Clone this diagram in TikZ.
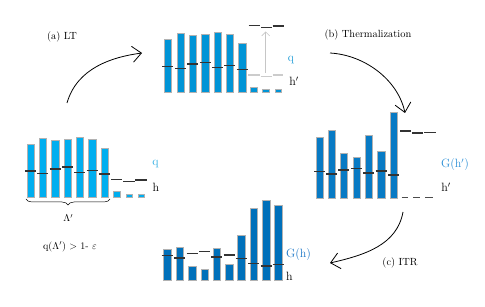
\documentclass[tikz,border=0pt]{standalone}
\usetikzlibrary{arrows.meta,decorations.pathreplacing}
\definecolor{barA}{RGB}{0,174,239}
\definecolor{barB}{RGB}{0,148,214}
\definecolor{barC}{RGB}{8,122,196}
\definecolor{barD}{RGB}{0,112,186}
\definecolor{lblA}{RGB}{41,171,226}
\definecolor{lblB}{RGB}{27,154,214}
\definecolor{lblC}{RGB}{43,143,214}
\definecolor{lblD}{RGB}{30,120,200}
\begin{document}
\begin{tikzpicture}[x=1pt,y=-1pt,
  bar/.style={draw=gray!60,line width=0.4pt},
  tick/.style={line width=1.3pt,draw=black!80},
  gtick/.style={line width=1.3pt,draw=gray!40},
  dtick/.style={line width=0.8pt,draw=black!70},
  flow/.style={line width=0.8pt,-{Straight Barb[length=9pt,width=16pt]}},
  lbl/.style={inner sep=0pt,font=\fontsize{12}{14}\selectfont},
  small/.style={inner sep=0pt,font=\fontsize{10}{12}\selectfont},
  tag/.style={inner sep=0pt,font=\fontsize{10.4}{12}\selectfont}]
\useasboundingbox (0,0) rectangle (485,307);

% ---------- Panel A (left) ----------
\foreach \x/\t/\k in {26.7/144/171,39/138/173.3,51.3/140/169,63.7/139/167,76/137/172.3,88.3/139/170.7,100.7/148.3/174}{
  \path[bar,fill=barA] (\x,\t) rectangle (\x+7.6,197.3);
  \draw[tick] (\x-1.8,\k) -- (\x+9.4,\k);
}
\foreach \x/\t in {113.3/191.7,125.7/194,137.7/194}{
  \path[bar,fill=barA] (\x,\t) rectangle (\x+6.8,197.3);
}
\draw[tick] (111,179.3) -- (121.7,179.3);
\draw[tick] (123.3,181.3) -- (135,181.3);
\draw[tick] (135,180) -- (146.7,180);
\node[lbl,text=lblA] (qA) at (155.5,164.5) {q};
\node[lbl] (hA) at (156,187) {h};
\draw[decorate,decoration={brace,mirror,amplitude=6pt},line width=0.5pt] (26,199) -- (110,199);
\node[small] (lam) at (68.3,218) {$\Lambda'$};
\node[small] (cond) at (70,247) {q($\Lambda'$) $>$ 1- $\varepsilon$};

% ---------- Panel B (top) ----------
\foreach \x/\t/\k in {164/39.3/66.3,176.7/33.3/68.7,189/35.3/64,201.3/34/62.3,213.7/32.3/67.7,226/34.3/65.7,238.3/43.3/69.7}{
  \path[bar,fill=barB] (\x,\t) rectangle (\x+7.4,92.3);
  \draw[tick] (\x-1.8,\k) -- (\x+9.2,\k);
}
\foreach \x/\t in {250/87.3,262.3/89.3,274.7/89.3}{
  \path[bar,fill=barB] (\x,\t) rectangle (\x+6.7,92.3);
}
\draw[gtick] (248.3,75) -- (260,75);
\draw[gtick] (260.7,76.7) -- (271.7,76.7);
\draw[gtick] (272.7,75) -- (283.3,75);
\draw[tick] (248.7,25.7) -- (260,25.7);
\draw[tick] (261,27.3) -- (271.7,27.3);
\draw[tick] (272.7,26) -- (284.3,26);
\coordinate (g1) at (265.7,73);
\coordinate (g2) at (265.7,31.5);
\draw[line width=0.6pt,draw=gray!45,-{Straight Barb[length=4pt,width=8pt]}] (g1) -- (g2);
\node[lbl,text=lblB] (qB) at (291,60.5) {q};
\node[lbl] (hB) at (294,81.5) {h$'$};

% ---------- Panel C (right) ----------
\foreach \x/\t/\k in {316/137.3/171.7,328/130/174,340/153/170,352.7/157/168.3,365/135/173,377.3/151.7/171,390/112.7/175}{
  \path[bar,fill=barC] (\x,\t) rectangle (\x+7.4,198.3);
  \draw[tick] (\x-1.8,\k) -- (\x+9.2,\k);
}
\draw[tick] (400,131) -- (411,131);
\draw[tick] (412.3,133) -- (423.3,133);
\draw[tick] (424,132.3) -- (435.7,132.3);
\draw[dtick] (401.7,197.7) -- (408.3,197.7);
\draw[dtick] (413.3,197.7) -- (420,197.7);
\draw[dtick] (425,197.7) -- (433.3,197.7);
\node[lbl,text=lblC] (gC) at (455,165) {G(h$'$)};
\node[lbl] (hC) at (446,187.5) {h$'$};

% ---------- Panel D (bottom) ----------
\foreach \x/\t/\k in {163.3/249/255.7,175.7/247/258,188.3/266/253.3,200.7/269/251.7,213/248/257,225.3/264.3/255,237.3/235.3/258.7,250/208/263.7,262.3/200.7/266,274.3/205/264.7}{
  \path[bar,fill=barD] (\x,\t) rectangle (\x+7.4,280.7);
  \draw[tick] (\x-1.8,\k) -- (\x+9.2,\k);
}
\node[lbl,text=lblD] (gD) at (298.6,255) {G(h)};
\node[lbl] (hD) at (289.5,276) {h};

% ---------- Process arrows ----------
\coordinate (a1) at (67,103);
\coordinate (a2) at (142,53);
\draw[flow] (a1) .. controls (77,68) and (112,57) .. (a2);
\node[tag] (tA) at (62,37) {(a)\ LT};

\coordinate (b1) at (330,53);
\coordinate (b2) at (405,113);
\draw[flow] (b1) .. controls (365,55) and (398,80) .. (b2);
\node[tag] (tB) at (368,35) {(b)\ Thermalization};

\coordinate (c1) at (403,212);
\coordinate (c2) at (330,263);
\draw[flow] (c1) .. controls (397,245) and (365,255) .. (c2);
\node[tag] (tC) at (400,263) {(c)\ ITR};
\end{tikzpicture}
\end{document}
